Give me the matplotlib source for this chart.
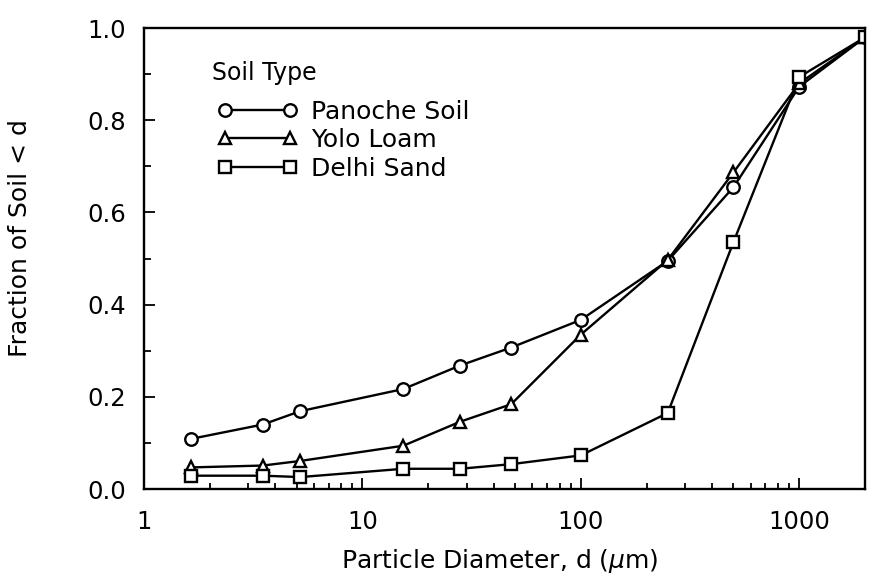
#!/usr/bin/env python
"""Particle size distribution of three soils."""
import matplotlib
matplotlib.use('Agg')
import matplotlib.pyplot as plt
from matplotlib.ticker import FixedLocator, NullFormatter

# particle diameter (um) shared by all three soils
diameter = [1.65, 3.5, 5.2, 15.4, 28, 48, 100, 250, 500, 1000, 2000]

panoche = [0.109, 0.140, 0.169, 0.217, 0.268, 0.307, 0.367, 0.495, 0.655, 0.873, 0.98]
yolo = [0.047, 0.051, 0.061, 0.094, 0.146, 0.184, 0.335, 0.497, 0.687, 0.880, 0.98]
delhi = [0.029, 0.029, 0.026, 0.044, 0.044, 0.054, 0.073, 0.165, 0.536, 0.894, 0.98]

series = [
    ('Panoche Soil', panoche, 'o'),
    ('Yolo Loam', yolo, '^'),
    ('Delhi Sand', delhi, 's'),
]

xticks = [1, 10, 100, 1000]
xticklabels = ['1', '10', '100', '1000']
yticks = [0.0, 0.2, 0.4, 0.6, 0.8, 1.0]

plt.rcParams['font.family'] = 'DejaVu Sans'

fig = plt.figure(figsize=(8.72, 5.85), dpi=100)
ax = fig.add_axes([0.165, 0.164, 0.827, 0.788])

for label, values, marker in series:
    ax.plot(diameter, values, color='black', lw=1.7, marker=marker,
            markersize=9, markerfacecolor='white', markeredgecolor='black',
            markeredgewidth=1.7, label=label)

ax.set_xscale('log')
ax.set_xlim(1, 2000)
ax.set_ylim(0, 1.0)

ax.set_xticks(xticks)
ax.set_xticklabels(xticklabels)
ax.xaxis.set_minor_locator(FixedLocator(
    [m * 10 ** e for e in range(0, 4) for m in range(2, 10)]))
ax.xaxis.set_minor_formatter(NullFormatter())
ax.set_yticks(yticks)
ax.set_yticklabels([f'{v:.1f}' for v in yticks])
ax.set_yticks([0.1, 0.3, 0.5, 0.7, 0.9], minor=True)

ax.tick_params(which='both', direction='in', top=False, right=False,
               width=1.3, labelsize=17.5)
ax.tick_params(axis='y', which='major', length=8, pad=13)
ax.tick_params(axis='y', which='minor', length=5)
ax.tick_params(axis='x', which='major', length=8, pad=15)
ax.tick_params(axis='x', which='minor', length=4)
for spine in ax.spines.values():
    spine.set_linewidth(1.7)

ax.set_xlabel('Particle Diameter, d ($\\mu$m)', fontsize=18)
ax.set_ylabel('Fraction of Soil < d', fontsize=18)
ax.xaxis.set_label_coords(0.494, -0.125)
ax.yaxis.set_label_coords(-0.155, 0.545)

# legend title placed on its own, like the original key
ax.text(0.094, 0.902, 'Soil Type', transform=ax.transAxes, fontsize=17,
        ha='left', va='center')
ax.legend(loc='upper left', bbox_to_anchor=(0.102, 0.845), frameon=False,
          fontsize=18, numpoints=2, handlelength=3.2, handletextpad=0.55,
          labelspacing=0.18, borderpad=0, borderaxespad=0)

fig.savefig('out.png', dpi=100)
